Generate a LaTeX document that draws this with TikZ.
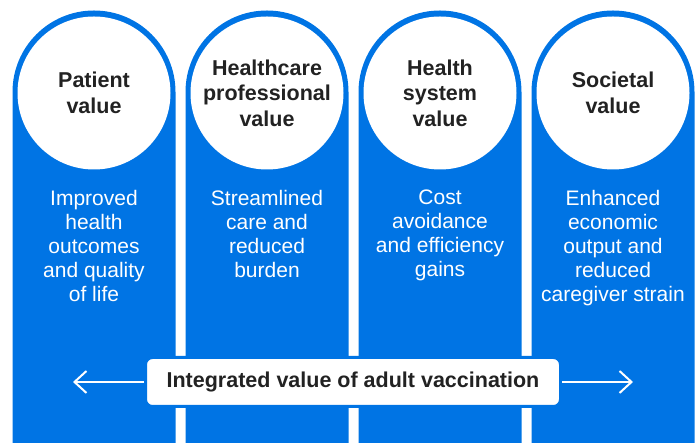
\documentclass[tikz,border=0pt]{standalone}
\usepackage{fontspec}
\setmainfont{Liberation Sans}
\usetikzlibrary{arrows.meta}
\definecolor{vaxblue}{RGB}{0,116,228}
\definecolor{inkgray}{RGB}{34,34,34}

\begin{document}
\begin{tikzpicture}[x=1pt, y=1pt,
        badge/.style={circle, fill=white, minimum size=153pt, inner sep=0pt,
          text=inkgray, align=center, font=\fontsize{21.5}{25.5}\selectfont\bfseries},
        gain/.style={anchor=north, inner sep=0pt, text=white, align=center,
          font=\fontsize{21}{24}\selectfont}]
      \tikzstyle{pillar} = [fill=vaxblue]
      \tikzstyle{banner} = [fill=white, draw=vaxblue, line width=3pt, rounded corners=7pt,
        minimum width=415pt, minimum height=49pt, inner sep=0pt, text=inkgray,
        font=\fontsize{21.5}{25}\selectfont\bfseries]
      \tikzstyle{spread} = [draw=white, line width=2pt, -{Straight Barb[length=12pt,width=22pt]}]
      \useasboundingbox (0,0) rectangle (699,443);
      % four columns with rounded tops
      \fill[pillar] (12.5,0) -- (12.5,351) arc[start angle=180, end angle=0, radius=81.5] -- (175.5,0) -- cycle;
      \fill[pillar] (185.5,0) -- (185.5,351) arc[start angle=180, end angle=0, radius=81.5] -- (348.5,0) -- cycle;
      \fill[pillar] (358.5,0) -- (358.5,351) arc[start angle=180, end angle=0, radius=81.5] -- (521.5,0) -- cycle;
      \fill[pillar] (531.5,0) -- (531.5,351) arc[start angle=180, end angle=0, radius=81.5] -- (694.5,0) -- cycle;
      \node (patient) [badge] at (94,350) {Patient\\value};
      \node (professional) [badge] at (267,350) {Healthcare\\professional\\value};
      \node (system) [badge] at (440,350) {Health\\system\\value};
      \node (societal) [badge] at (613,350) {Societal\\value};
      \node (patientgain) [gain] at (94,253) {Improved\\health\\outcomes\\and quality\\of life};
      \node (professionalgain) [gain] at (267,253) {Streamlined\\care and\\reduced\\burden};
      \node (systemgain) [gain] at (440,253) {Cost\\avoidance\\and efficiency\\gains};
      \node (societalgain) [gain] at (613,253) {Enhanced\\economic\\output and\\reduced\\caregiver strain};
      % integrated value across all four
      \node (integrated) [banner] at (353,61) {Integrated value of adult vaccination};
      \coordinate (leftend) at (73,61);
      \coordinate (rightend) at (633,61);
      \draw[spread] (integrated.west) -- (leftend);
      \draw[spread] (integrated.east) -- (rightend);
\end{tikzpicture}
\end{document}
